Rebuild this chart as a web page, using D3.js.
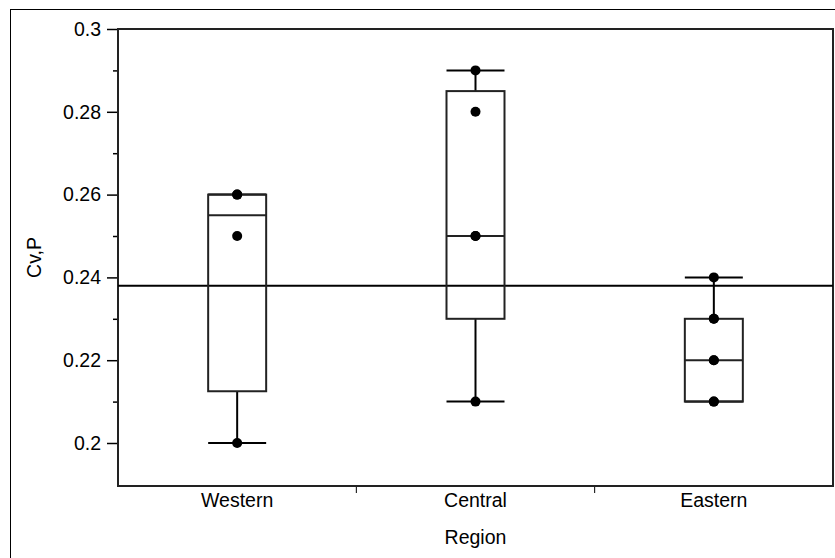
<!DOCTYPE html>
<html>
<head>
<meta charset="utf-8">
<script src="https://cdn.jsdelivr.net/npm/d3@7"></script>
<style>
  body { margin: 0; background: #fff; }
  svg { display: block; font-family: "Liberation Sans", Arial, sans-serif; }
</style>
</head>
<body>
<div id="chart"></div>
<script>
// data
const regions = ['Western', 'Central', 'Eastern'];
const points = [
  [0.20, 0.25, 0.26, 0.26],
  [0.21, 0.25, 0.25, 0.28, 0.29],
  [0.21, 0.21, 0.22, 0.22, 0.23, 0.23, 0.24]
];
const whiskerLo = [0.20, 0.21, 0.21];
const q1 = [0.2125, 0.23, 0.21];
const median = [0.255, 0.25, 0.22];
const q3 = [0.26, 0.285, 0.23];
const whiskerHi = [0.26, 0.29, 0.24];
const grandMean = 0.238;
const yTicks = [0.2, 0.22, 0.24, 0.26, 0.28, 0.3];
const yMinorTicks = [0.21, 0.23, 0.25, 0.27, 0.29];

const width = 835, height = 558;
const plot = { left: 118, top: 29, right: 833, bottom: 486 };
const fontSize = 19.5;

const svg = d3.select('#chart').append('svg')
  .attr('width', width)
  .attr('height', height);

// outer frame
svg.append('rect')
  .attr('x', 10.5).attr('y', 9.5)
  .attr('width', 840).attr('height', 560)
  .attr('fill', 'none').attr('stroke', '#000').attr('stroke-width', 1);

const y = d3.scaleLinear()
  .domain([0.2 - (plot.bottom - 443) / 4140, 0.3])
  .range([plot.bottom, plot.top]);

const x = d3.scaleBand()
  .domain(regions)
  .range([plot.left, plot.right]);

const boxW = 58;

// y axis
const yAxis = svg.append('g')
  .attr('transform', `translate(${plot.left},0)`)
  .call(d3.axisLeft(y).tickValues(yTicks).tickSize(11).tickPadding(6)
    .tickFormat(d3.format('')));
yAxis.attr('font-size', fontSize).attr('font-family', '"Liberation Sans", Arial, sans-serif');
yAxis.select('.domain').remove();
yAxis.selectAll('line').attr('stroke', '#000').attr('stroke-width', 1.5);
yAxis.selectAll('text').attr('fill', '#000');

svg.append('g')
  .attr('transform', `translate(${plot.left},0)`)
  .call(d3.axisLeft(y).tickValues(yMinorTicks).tickSize(5).tickFormat(''))
  .call(g => g.select('.domain').remove())
  .selectAll('line').attr('stroke', '#000').attr('stroke-width', 1.5);

// x axis: separator ticks between bands, labels centred
const xAxis = svg.append('g');
xAxis.selectAll('line.sep')
  .data(regions.slice(1))
  .join('line')
  .attr('x1', d => x(d)).attr('x2', d => x(d))
  .attr('y1', plot.bottom).attr('y2', plot.bottom + 7)
  .attr('stroke', '#000').attr('stroke-width', 1);
xAxis.selectAll('text')
  .data(regions)
  .join('text')
  .attr('x', d => x(d) + x.bandwidth() / 2)
  .attr('y', 507)
  .attr('text-anchor', 'middle')
  .attr('font-size', fontSize)
  .text(d => d);

// axis titles
svg.append('text')
  .attr('x', x('Central') + x.bandwidth() / 2)
  .attr('y', 544)
  .attr('text-anchor', 'middle')
  .attr('font-size', fontSize)
  .text('Region');

svg.append('text')
  .attr('transform', `translate(41,${(plot.top + plot.bottom) / 2}) rotate(-90)`)
  .attr('text-anchor', 'middle')
  .attr('font-size', fontSize)
  .text('Cv,P');

// plot frame
svg.append('rect')
  .attr('x', plot.left).attr('y', plot.top)
  .attr('width', plot.right - plot.left).attr('height', plot.bottom - plot.top)
  .attr('fill', 'none').attr('stroke', '#222').attr('stroke-width', 2);

// grand mean line
svg.append('line')
  .attr('x1', plot.left).attr('x2', plot.right)
  .attr('y1', y(grandMean)).attr('y2', y(grandMean))
  .attr('stroke', '#000').attr('stroke-width', 2);

// boxes
const boxes = svg.selectAll('g.box')
  .data(regions)
  .join('g')
  .attr('class', 'box')
  .attr('transform', d => `translate(${x(d) + x.bandwidth() / 2},0)`);

boxes.append('line')
  .attr('x1', 0).attr('x2', 0)
  .attr('y1', (d, i) => y(whiskerHi[i])).attr('y2', (d, i) => y(q3[i]))
  .attr('stroke', '#000').attr('stroke-width', 2);
boxes.append('line')
  .attr('x1', 0).attr('x2', 0)
  .attr('y1', (d, i) => y(q1[i])).attr('y2', (d, i) => y(whiskerLo[i]))
  .attr('stroke', '#000').attr('stroke-width', 2);
boxes.append('line')
  .attr('x1', -boxW / 2).attr('x2', boxW / 2)
  .attr('y1', (d, i) => y(whiskerHi[i])).attr('y2', (d, i) => y(whiskerHi[i]))
  .attr('stroke', '#000').attr('stroke-width', 2);
boxes.append('line')
  .attr('x1', -boxW / 2).attr('x2', boxW / 2)
  .attr('y1', (d, i) => y(whiskerLo[i])).attr('y2', (d, i) => y(whiskerLo[i]))
  .attr('stroke', '#000').attr('stroke-width', 2);
boxes.append('rect')
  .attr('x', -boxW / 2).attr('width', boxW)
  .attr('y', (d, i) => y(q3[i]))
  .attr('height', (d, i) => y(q1[i]) - y(q3[i]))
  .attr('fill', 'none').attr('stroke', '#222').attr('stroke-width', 2);
boxes.append('line')
  .attr('x1', -boxW / 2).attr('x2', boxW / 2)
  .attr('y1', (d, i) => y(median[i])).attr('y2', (d, i) => y(median[i]))
  .attr('stroke', '#222').attr('stroke-width', 2);

boxes.selectAll('circle')
  .data((d, i) => points[i])
  .join('circle')
  .attr('cx', 0)
  .attr('cy', d => y(d))
  .attr('r', 5)
  .attr('fill', '#000');
</script>
</body>
</html>
